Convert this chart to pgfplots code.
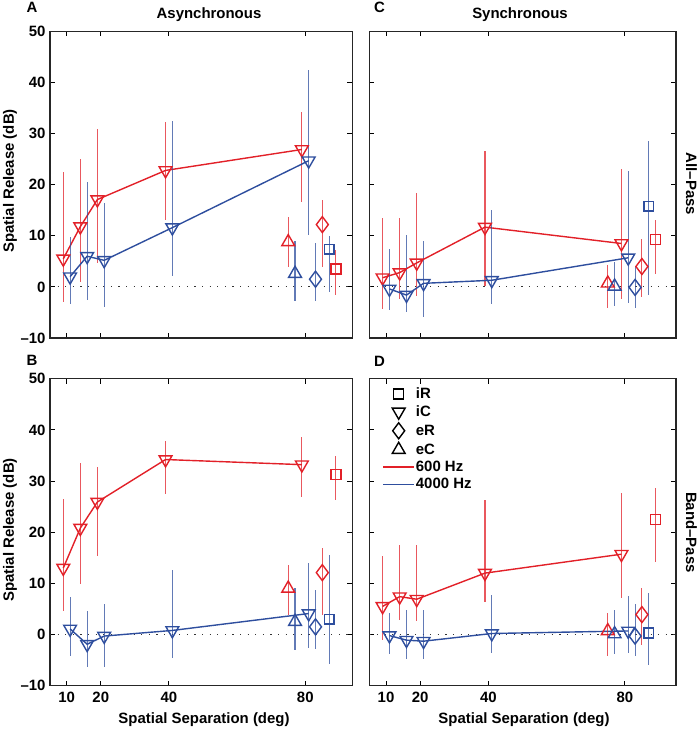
\documentclass[border=0pt]{standalone}
\usepackage{fontspec}
\setmainfont{Liberation Sans}
\usepackage{pgfplots}
\usepackage{pgfplotstable}
\pgfplotsset{compat=1.18}
\definecolor{myred}{RGB}{226,32,40}
\definecolor{myblue}{RGB}{46,78,158}
\newcommand{\lab}{\bfseries\fontsize{15}{17}\selectfont}

% ---------- Panel A (Asynchronous, All-Pass) ----------
\pgfplotstableread{
x y lo hi
9 5.5 -2.9 22.5
14 11.8 1.0 25.0
19 17.1 4.6 30.9
39 22.8 13.1 32.2
79 26.9 16.7 34.2
}\Ared
\pgfplotstableread{
x y lo hi
11 2.0 -3.3 9.8
16 6.0 -2.6 20.6
21 5.2 -4.0 16.5
41 11.6 2.1 32.5
81 24.7 10.1 42.5
}\Ablue
% rows: red eC, blue eC, blue eR, red eR, blue iR, red iR
\pgfplotstableread{
x y lo hi
75 8.8 3.9 13.7
77 2.6 -2.8 9.0
83 1.5 -2.7 8.5
85 12.2 3.9 17.1
87 7.4 -0.9 10.0
89 3.5 -1.6 7.3
}\Aother

% ---------- Panel B (Asynchronous, Band-Pass) ----------
\pgfplotstableread{
x y lo hi
9 13.0 4.6 26.4
14 20.8 9.8 33.5
19 25.9 15.4 32.7
39 34.2 27.5 37.9
79 33.2 26.8 38.7
}\Bred
\pgfplotstableread{
x y lo hi
11 1.1 -4.2 7.3
16 -1.9 -6.3 4.6
21 -0.3 -6.3 5.9
41 0.8 -4.5 12.7
81 4.1 -2.7 14.0
}\Bblue
\pgfplotstableread{
x y lo hi
75 9.0 3.9 13.6
77 2.5 -3.0 9.0
83 1.5 -2.9 8.7
85 12.1 3.8 17.0
87 3.0 -5.8 15.6
89 31.3 26.3 34.8
}\Bother

% ---------- Panel C (Synchronous, All-Pass) ----------
\pgfplotstableread{
x y lo hi
9 1.8 -4.4 13.5
14 2.8 -2.3 13.5
19 4.7 -1.7 18.4
39 11.7 0.1 26.7
79 8.5 -2.3 23.0
}\Cred
\pgfplotstableread{
x y lo hi
11 -0.4 -4.6 7.4
16 -1.6 -4.9 10.2
21 0.7 -5.9 9.0
41 1.3 -3.4 15.0
81 5.7 -3.1 22.6
}\Cblue
\pgfplotstableread{
x y lo hi
75 0.7 -4.2 4.2
77 0.1 -3.8 4.9
83 -0.1 -4.1 4.1
85 4.0 -2.0 9.3
87 15.8 -1.5 28.5
89 9.3 2.6 13.0
}\Cother

% ---------- Panel D (Synchronous, Band-Pass) ----------
\pgfplotstableread{
x y lo hi
9 5.5 -1.0 15.3
14 7.4 2.9 17.4
19 6.9 2.6 17.4
39 12.0 6.3 26.3
79 15.7 7.2 27.7
}\Dred
\pgfplotstableread{
x y lo hi
11 -0.2 -3.9 4.3
16 -1.1 -4.8 4.8
21 -1.3 -4.7 4.8
41 0.2 -3.7 7.8
81 0.7 -3.7 7.6
}\Dblue
\pgfplotstableread{
x y lo hi
75 0.7 -4.2 4.2
77 0.1 -3.9 4.8
83 -0.3 -4.2 5.9
85 3.9 -2.0 9.1
87 0.3 -5.9 8.2
89 22.5 14.1 28.6
}\Dother

\pgfplotsset{
  table/errtab/.style={x=x, y=y,
    y error plus expr=\thisrow{hi}-\thisrow{y},
    y error minus expr=\thisrow{y}-\thisrow{lo}},
  eb/.style={error bars/y dir=both, error bars/y explicit,
    error bars/error mark=none,
    error bars/error bar style={line width=1.1bp, color=#1, opacity=0.75, solid}},
  row/.style={restrict expr to domain={\coordindex}{#1:#1}},
  icm/.style={mark=triangle, mark size=7.4bp, mark options={rotate=180, solid, line width=1.4bp}},
  ecm/.style={mark=triangle, mark size=7.4bp, mark options={solid, line width=1.4bp}},
  erm/.style={mark=diamond, mark size=8bp, mark options={solid, line width=1.4bp}},
  irm/.style={mark=square, mark size=4.9bp, mark options={solid, line width=1.4bp}},
  panel/.style={
    scale only axis, anchor=south west,
    xmin=5.1, ymin=-10, ymax=50,
    xtick={10,20,40,80}, ytick={-10,0,10,20,30,40,50},
    tick align=inside, major tick length=5bp,
    tick style={black, line width=0.9bp},
    axis line style={black!85, line width=1.2bp},
    every tick label/.append style={font=\lab},
    yticklabel style={xshift=-1bp},
    xticklabel style={yshift=-3bp},
  },
}

\newcommand{\drawpanel}[3]{%
  \draw[black!80, line width=1.1bp, dash pattern=on 1.2bp off 6.4bp]
    ({rel axis cs:0,0}|-{axis cs:50,0}) -- ({rel axis cs:1,0}|-{axis cs:50,0});
  \addplot[forget plot, myred, line width=1.4bp, icm, eb=myred] table[errtab] {#1};
  \addplot[forget plot, myblue, line width=1.4bp, icm, eb=myblue] table[errtab] {#2};
  \addplot[forget plot, only marks, myred, ecm, eb=myred, row=0] table[errtab] {#3};
  \addplot[forget plot, only marks, myblue, ecm, eb=myblue, row=1] table[errtab] {#3};
  \addplot[forget plot, only marks, myblue, erm, eb=myblue, row=2] table[errtab] {#3};
  \addplot[forget plot, only marks, myred, erm, eb=myred, row=3] table[errtab] {#3};
  \addplot[forget plot, only marks, myblue, irm, eb=myblue, row=4] table[errtab] {#3};
  \addplot[forget plot, only marks, myred, irm, eb=myred, row=5] table[errtab] {#3};
}

\begin{document}
\begin{tikzpicture}[x=1bp,y=1bp]
\path[use as bounding box] (0,0) rectangle (700,729);

% A
\begin{axis}[panel, at={(50bp,391bp)}, width=302.3bp, height=306.5bp, xmax=93.8,
  xticklabels={}, yticklabels={–10,0,10,20,30,40,50}]
\drawpanel{\Ared}{\Ablue}{\Aother}
\end{axis}

% C
\begin{axis}[panel, at={(369.3bp,391bp)}, width=306.7bp, height=306.5bp, xmax=95,
  xticklabels={}, yticklabels={}]
\drawpanel{\Cred}{\Cblue}{\Cother}
\end{axis}

% B
\begin{axis}[panel, at={(50bp,43.3bp)}, width=302.3bp, height=307bp, xmax=93.8,
  xticklabels={10,20,40,80}, yticklabels={–10,0,10,20,30,40,50}]
\drawpanel{\Bred}{\Bblue}{\Bother}
\end{axis}

% D
\begin{axis}[panel, at={(369.3bp,43.3bp)}, width=306.7bp, height=307bp, xmax=95,
  xticklabels={10,20,40,80}, yticklabels={},
  legend image code/.code={\draw[mark repeat=2,mark phase=2,#1] plot coordinates {(0bp,0bp) (15.5bp,0bp) (31bp,0bp)};},
  legend style={draw=none, fill=none, font=\lab, at={(rel axis cs:0,1)}, anchor=north west,
    xshift=10bp, yshift=-6bp, row sep=3.5bp,
    nodes={inner sep=1bp}},
  legend cell align=left]
\drawpanel{\Dred}{\Dblue}{\Dother}
\addlegendimage{only marks, black, irm}
\addlegendentry{iR}
\addlegendimage{only marks, black, icm}
\addlegendentry{iC}
\addlegendimage{only marks, black, erm}
\addlegendentry{eR}
\addlegendimage{only marks, black, ecm}
\addlegendentry{eC}
\addlegendimage{no markers, color=myred, line width=1.4bp}
\addlegendentry{600 Hz}
\addlegendimage{no markers, color=myblue, line width=1.4bp}
\addlegendentry{4000 Hz}
\end{axis}

% labels
\node[font=\lab] at (32,721.5) {A};
\node[font=\lab] at (32,369) {B};
\node[font=\lab] at (379.5,721.5) {C};
\node[font=\lab] at (379.5,367.5) {D};
\node[font=\lab] at (209,714) {Asynchronous};
\node[font=\lab] at (520,714) {Synchronous};
\node[font=\lab, rotate=90] at (10,548) {Spatial Release (dB)};
\node[font=\lab, rotate=90] at (10,199) {Spatial Release (dB)};
\node[font=\lab] at (204,9) {Spatial Separation (deg)};
\node[font=\lab] at (524,9) {Spatial Separation (deg)};
\node[font=\lab, rotate=-90] at (691.5,545) {All–Pass};
\node[font=\lab, rotate=-90] at (691.5,196.5) {Band–Pass};
\end{tikzpicture}
\end{document}
